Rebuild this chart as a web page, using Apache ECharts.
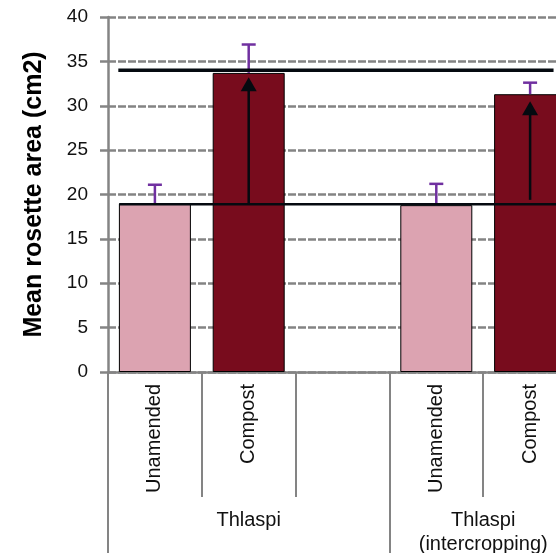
<!DOCTYPE html>
<html>
<head>
<meta charset="utf-8">
<script src="https://cdn.jsdelivr.net/npm/echarts@6/dist/echarts.min.js"></script>
<style>
  html, body { margin: 0; padding: 0; background: #ffffff; }
  #chart { width: 556px; height: 553px; }
</style>
</head>
<body>
<div id="chart"></div>
<script>
// Treatment slots along the x axis (blank slot separates the two groups)
const categories = ['Unamended', 'Compost', '', 'Unamended', 'Compost'];
// Group labels placed under the slots, and where each group starts/ends (in slot units)
const groupLabels = ['Thlaspi', 'Thlaspi\n(intercropping)'];
const groupCenters = [1.5, 4];
const groupBounds = [0, 3, 5];

// Mean rosette area (cm2) and standard errors per slot
const meanArea = [19.0, 33.7, null, 18.8, 31.3];
const stdError = [2.1, 3.2, null, 2.4, 1.3];
const barColors = ['#DCA3B1', '#780C1D', '#ffffff', '#DCA3B1', '#780C1D'];

// Y axis ticks
const yMin = 0, yMax = 40, yStep = 5;

// Horizontal reference levels and their extent (slot units)
const refLevels = [34.0, 18.9];
const refSpans = [[0.11, 4.75], [0.12, 5.0]];

// Increase arrows: [slot index, start level, arrow tip level]
const arrowSlots = [1, 4];
const arrowFrom = [18.9, 19.4];
const arrowTo = [33.2, 30.5];

const FONT = "'Liberation Sans', Arial, sans-serif";
const GREY = '#848484';

const barData = meanArea.map((v, i) => v === null ? '-' : {
  value: v,
  itemStyle: { color: barColors[i] }
});

const errData = [];
meanArea.forEach((v, i) => {
  if (v !== null) errData.push([i, v, stdError[i]]);
});

const arrowData = arrowSlots.map((s, i) => [s, arrowFrom[i], arrowTo[i]]);

const refSeries = refLevels.map((lvl, i) => ({
  type: 'line',
  xAxisIndex: 1,
  yAxisIndex: 0,
  data: [[refSpans[i][0], lvl], [refSpans[i][1], lvl]],
  symbol: 'none',
  lineStyle: { color: '#050a10', width: i === 0 ? 3.5 : 2.5 },
  silent: true,
  z: 4
}));

const chart = echarts.init(document.getElementById('chart'), null, { renderer: 'canvas' });

chart.setOption({
  animation: false,
  backgroundColor: '#ffffff',
  grid: {
    left: 108,
    top: 17,
    width: 469,
    height: 355,
    containLabel: false,
    outerBoundsMode: 'none'
  },
  xAxis: [
    {
      type: 'category',
      data: categories,
      boundaryGap: true,
      axisLine: { show: true, lineStyle: { color: GREY, width: 2.5 } },
      axisTick: { show: true, interval: 0, length: 125, lineStyle: { color: GREY, width: 2 } },
      axisLabel: {
        interval: 0,
        rotate: 90,
        margin: 12,
        fontFamily: FONT,
        fontSize: 20,
        color: '#111111'
      },
      splitLine: { show: false }
    },
    {
      type: 'value',
      min: 0,
      max: 5,
      position: 'bottom',
      axisLine: { show: false },
      splitLine: { show: false },
      axisTick: {
        show: true,
        customValues: groupBounds,
        length: 181,
        lineStyle: { color: GREY, width: 2 }
      },
      axisLabel: {
        show: true,
        customValues: groupCenters,
        formatter: (v) => groupLabels[groupCenters.indexOf(v)] || '',
        margin: 136,
        fontFamily: FONT,
        fontSize: 20,
        lineHeight: 24,
        color: '#111111',
        align: 'center',
        verticalAlign: 'top'
      }
    }
  ],
  yAxis: {
    type: 'value',
    min: yMin,
    max: yMax,
    interval: yStep,
    name: 'Mean rosette area (cm2)',
    nameLocation: 'middle',
    nameRotate: 90,
    nameGap: 61,
    nameTextStyle: {
      fontFamily: FONT,
      fontSize: 25,
      fontWeight: 'bold',
      color: '#000000'
    },
    axisLine: { show: true, lineStyle: { color: GREY, width: 2.5 } },
    axisTick: { show: true, length: 8, lineStyle: { color: GREY, width: 2.5 } },
    axisLabel: {
      margin: 20,
      fontFamily: FONT,
      fontSize: 19,
      color: '#111111'
    },
    splitLine: {
      show: true,
      lineStyle: { color: GREY, width: 2.5, type: [8, 2] }
    }
  },
  series: [
    {
      type: 'bar',
      data: barData,
      barWidth: 72,
      itemStyle: { borderColor: '#000000', borderWidth: 1 },
      z: 2
    },
    ...refSeries,
    {
      type: 'custom',
      name: 'arrows',
      xAxisIndex: 0,
      yAxisIndex: 0,
      data: arrowData,
      silent: true,
      z: 5,
      renderItem: (params, api) => {
        const slot = api.value(0);
        const base = api.coord([slot, api.value(1)]);
        const tip = api.coord([slot, api.value(2)]);
        const headH = 14, headW = 8;
        return {
          type: 'group',
          children: [
            {
              type: 'line',
              shape: { x1: base[0], y1: base[1], x2: tip[0], y2: tip[1] + headH - 1 },
              style: { stroke: '#050a10', lineWidth: 2.5 }
            },
            {
              type: 'polygon',
              shape: {
                points: [
                  [tip[0], tip[1]],
                  [tip[0] - headW, tip[1] + headH],
                  [tip[0] + headW, tip[1] + headH]
                ]
              },
              style: { fill: '#050a10' }
            }
          ]
        };
      }
    },
    {
      type: 'custom',
      name: 'error',
      xAxisIndex: 0,
      yAxisIndex: 0,
      data: errData,
      silent: true,
      z: 3,
      renderItem: (params, api) => {
        const slot = api.value(0);
        const v = api.value(1);
        const e = api.value(2);
        const bottom = api.coord([slot, v]);
        const top = api.coord([slot, v + e]);
        const capHalf = 7;
        return {
          type: 'group',
          children: [
            {
              type: 'line',
              shape: { x1: top[0], y1: top[1], x2: bottom[0], y2: bottom[1] },
              style: { stroke: '#7030A0', lineWidth: 2.5 }
            },
            {
              type: 'line',
              shape: { x1: top[0] - capHalf, y1: top[1], x2: top[0] + capHalf, y2: top[1] },
              style: { stroke: '#7030A0', lineWidth: 2.5 }
            }
          ]
        };
      }
    }
  ]
});
</script>
</body>
</html>
